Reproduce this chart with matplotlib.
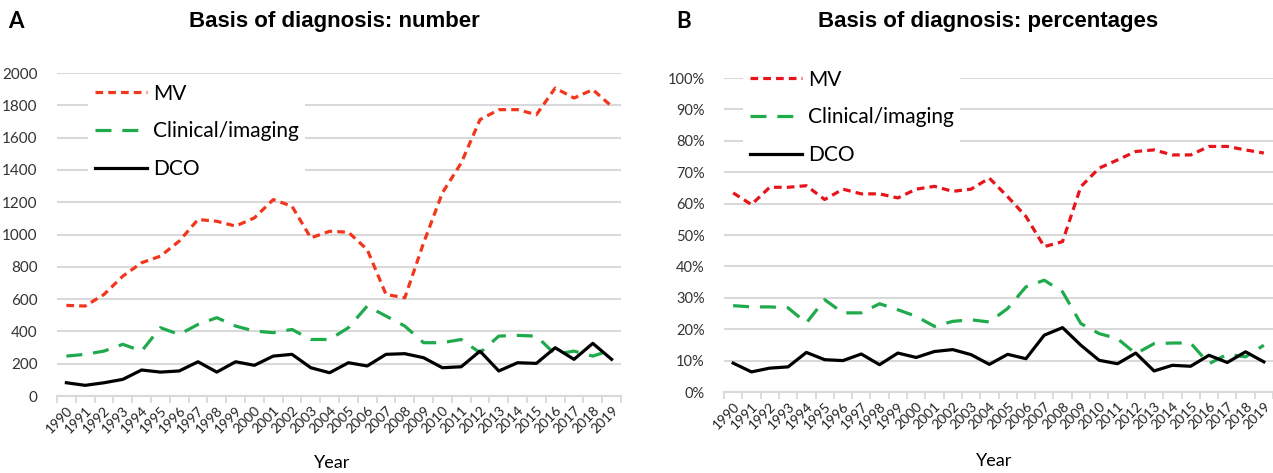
import numpy as np
import matplotlib
matplotlib.use("Agg")
import matplotlib.pyplot as plt
from matplotlib.ticker import MultipleLocator, FuncFormatter

# --- dane ---
years = [str(y) for y in range(1990, 2020)]

mv_number = [561, 557, 629, 742, 825, 866, 959, 1093, 1082, 1052,
             1103, 1216, 1175, 979, 1020, 1014, 907, 629, 608, 948,
             1258, 1443, 1711, 1773, 1773, 1742, 1907, 1845, 1897, 1794]
clin_number = [247, 258, 278, 320, 278, 423, 381, 443, 485, 433,
               402, 392, 412, 350, 350, 423, 557, 495, 433, 330,
               330, 350, 268, 371, 375, 371, 258, 278, 247, 285]
dco_number = [82, 66, 82, 103, 161, 148, 155, 212, 148, 212,
              190, 247, 258, 175, 144, 206, 186, 258, 262, 237,
              175, 181, 278, 155, 206, 202, 299, 227, 326, 227]

mv_pct = [63.4, 59.7, 65.2, 65.2, 65.7, 61.3, 64.6, 63.1, 63.1, 61.8,
          64.6, 65.5, 63.9, 64.6, 68.1, 62.2, 55.9, 46.3, 47.9, 65.4,
          71.3, 73.9, 76.6, 77.1, 75.5, 75.5, 78.2, 78.2, 77.1, 76.1]
clin_pct = [27.5, 27.1, 27.1, 26.8, 22.0, 29.4, 25.2, 25.2, 28.1, 26.2,
            24.1, 20.9, 22.5, 23.0, 22.3, 26.6, 33.5, 35.6, 31.9, 21.8,
            18.6, 17.0, 12.2, 15.4, 15.6, 15.6, 9.0, 12.0, 11.2, 14.9]
dco_pct = [9.2, 6.4, 7.6, 8.0, 12.6, 10.3, 10.0, 12.1, 8.7, 12.4,
           11.0, 12.9, 13.5, 11.9, 8.8, 12.0, 10.6, 18.1, 20.5, 14.9,
           10.1, 9.0, 12.4, 6.7, 8.5, 8.2, 11.7, 9.4, 12.8, 9.6]

# --- wyglad ---
FONT = ['Lato', 'DejaVu Sans']
TITLE_FONT = ['Liberation Sans Narrow', 'Liberation Sans', 'DejaVu Sans']
GRID = '#d9d9d9'
W, H = 1273, 473

fig = plt.figure(figsize=(W / 100, H / 100), dpi=100)


def px_axes(x0, x1, y_top, y_bot):
    return fig.add_axes([x0 / W, 1 - y_bot / H, (x1 - x0) / W, (y_bot - y_top) / H])


def draw_panel(ax, mv, clin, dco, mv_color, xmax, leg_anchor, ysize):
    x = np.arange(len(years))
    ax.plot(x, mv, color=mv_color, lw=2.3, dashes=(2.4, 1.6),
            solid_capstyle='butt', label='MV', zorder=3)
    ax.plot(x, clin, color='#1faa4c', lw=2.3, dashes=(5.0, 3.4),
            label='Clinical/imaging', zorder=3)
    ax.plot(x, dco, color='black', lw=2.3, label='DCO', zorder=3)

    ax.set_xlim(-0.5, xmax)
    ax.set_xticks(x)
    ax.set_xticklabels(years, rotation=45, ha='right', va='top',
                       rotation_mode='anchor', fontsize=10, family=FONT,
                       color='#222222')
    ax.tick_params(axis='x', which='major', length=0, pad=6)
    ax.set_xticks(np.arange(-0.5, len(years)), minor=True)
    ax.tick_params(axis='x', which='minor', length=5, color=GRID, width=1.3)
    ax.tick_params(axis='y', length=0, pad=14, labelsize=ysize, labelcolor='#333333')

    ax.grid(axis='y', color=GRID, lw=1.5, zorder=0)
    for s in ['top', 'right', 'left']:
        ax.spines[s].set_visible(False)
    ax.spines['bottom'].set_color(GRID)
    ax.spines['bottom'].set_linewidth(1.5)

    leg = ax.legend(loc='upper left', bbox_to_anchor=leg_anchor,
                    bbox_transform=fig.transFigure, frameon=True,
                    fancybox=False, edgecolor='none', facecolor='white',
                    framealpha=1, handlelength=2.5, handletextpad=0.3,
                    labelspacing=0.85, borderpad=0.3,
                    prop={'family': FONT, 'size': 15})
    leg.set_zorder(5)
    return ax


# A: liczby
ax1 = px_axes(57, 621, 73, 396)
draw_panel(ax1, mv_number, clin_number, dco_number, '#f2361c', 29.5,
           (78 / W, 1 - 67 / H), 11)
ax1.set_ylim(0, 2000)
ax1.yaxis.set_major_locator(MultipleLocator(200))
for lab in ax1.get_yticklabels():
    lab.set_family(FONT)

# B: procenty
ax2 = px_axes(724, 1273, 78, 392)
draw_panel(ax2, mv_pct, clin_pct, dco_pct, '#e8141b', 29.2,
           (733 / W, 1 - 53 / H), 10.5)
ax2.set_ylim(0, 100)
ax2.yaxis.set_major_locator(MultipleLocator(10))
ax2.yaxis.set_major_formatter(FuncFormatter(lambda v, p: f'{v:.0f}%'))
for lab in ax2.get_yticklabels():
    lab.set_family(FONT)

# podpisy
fig.text(332 / W, 1 - 463 / H, 'Year', ha='center', va='center',
         fontsize=13, family=FONT)
fig.text(994 / W, 1 - 461 / H, 'Year', ha='center', va='center',
         fontsize=13, family=FONT)

fig.text(8 / W, 1 - 22 / H, 'A', ha='left', va='center', fontsize=16,
         fontweight='bold', family=FONT)
fig.text(676 / W, 1 - 22 / H, 'B', ha='left', va='center', fontsize=16,
         fontweight='bold', family=FONT)
fig.text(334 / W, 1 - 22 / H, 'Basis of diagnosis: number', ha='center',
         va='center', fontsize=16, fontweight='bold', family=TITLE_FONT)
fig.text(988 / W, 1 - 22 / H, 'Basis of diagnosis: percentages', ha='center',
         va='center', fontsize=16, fontweight='bold', family=TITLE_FONT)

fig.savefig('out.png', dpi=100, facecolor='white')
